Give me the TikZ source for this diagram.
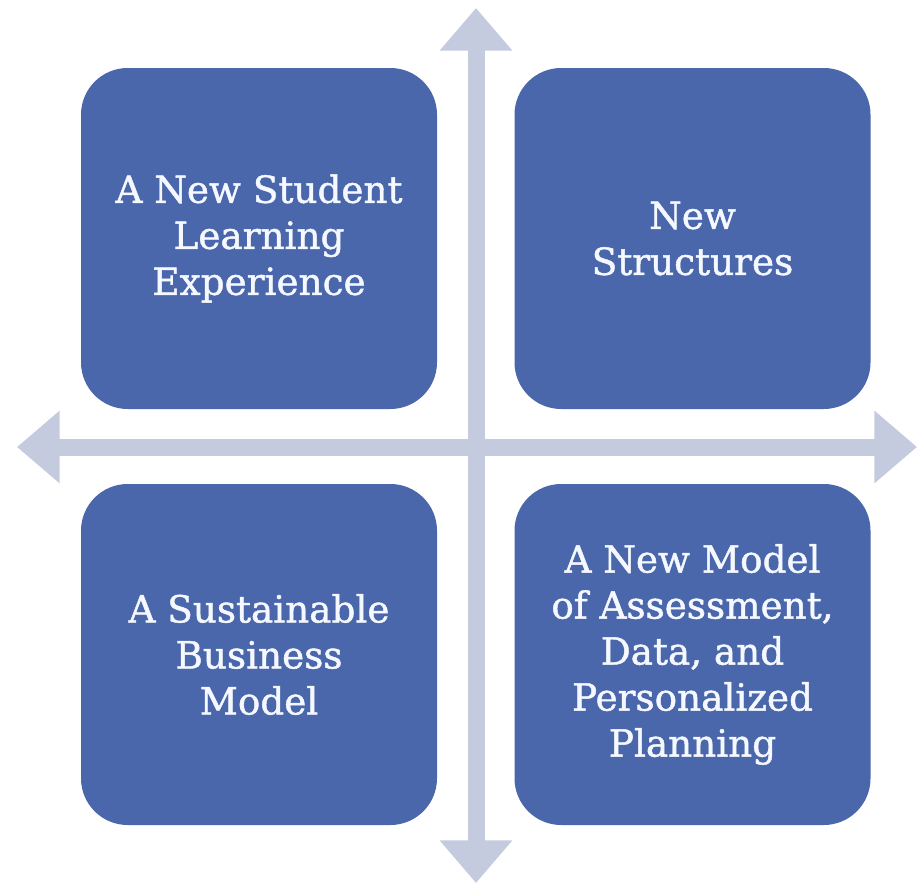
\documentclass[tikz,border=0pt]{standalone}
\usepackage{fontspec}
\setmainfont{DejaVu Serif}[FakeBold=1.2]
\usetikzlibrary{arrows.meta}
\definecolor{boxblue}{RGB}{74,103,172}
\definecolor{arrowgray}{RGB}{197,203,222}
\definecolor{textwhite}{RGB}{245,248,255}
\tikzset{
  quad/.style={fill=boxblue, draw=none, rounded corners=35pt,
    minimum width=267pt, minimum height=255.75pt, inner sep=0pt,
    align=center, text=textwhite,
    font=\fontsize{28}{34.5}\selectfont},
  axis/.style={draw=arrowgray, line width=12.75pt,
    {Triangle[width=52.5pt,length=32pt]}-{Triangle[width=52.5pt,length=32pt]}}
}
\begin{document}
\begin{tikzpicture}[x=0.75pt,y=-0.75pt]
\useasboundingbox (0,0) rectangle (920,885);
\fill[white] (0,0) rectangle (920,885);
\coordinate (top) at (476,8);
\coordinate (bottom) at (476,883);
\coordinate (left) at (17,447);
\coordinate (right) at (917,447);
\draw[axis] (top) -- (bottom);
\draw[axis] (left) -- (right);
\node[quad] (tl) at (259,238.5) {A New Student\\Learning\\Experience};
\node[quad] (tr) at (692.5,238.5) {New\\Structures};
\node[quad] (bl) at (259,654.5) {A Sustainable\\Business\\Model};
\node[quad] (br) at (692.5,654.5) {A New Model\\of Assessment,\\Data, and\\Personalized\\Planning};
\end{tikzpicture}
\end{document}
